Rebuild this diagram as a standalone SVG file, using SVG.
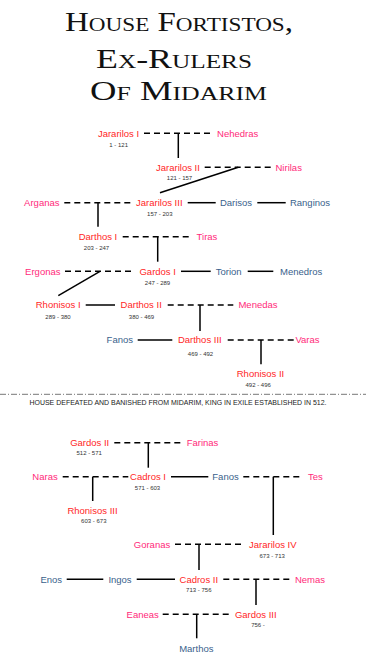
<svg xmlns="http://www.w3.org/2000/svg" width="366" height="661" viewBox="0 0 366 661">
<style>
text{font-family:"Liberation Sans",Arial,sans-serif;text-anchor:middle}
.k{fill:#ff1f1f;font-size:9.5px}
.s{fill:#ff2a7a;font-size:9.5px}
.o{fill:#3a5f8c;font-size:9.5px}
.d{fill:#333;font-size:6px}
.t{font-family:"Liberation Serif",serif;font-variant:small-caps;font-size:27px;fill:#111}
#connectors line{stroke:#000;stroke-width:1.5}
#connectors .dash{stroke-dasharray:6 4}
.sep{stroke:#777;stroke-width:1;stroke-dasharray:6 2 1 2}
</style>
<rect width="366" height="661" fill="#fff"/>
<g id="title">
<text class="t" x="179" y="31" textLength="228" lengthAdjust="spacingAndGlyphs">House Fortistos,</text>
<text class="t" x="174" y="68" textLength="156" lengthAdjust="spacingAndGlyphs">Ex-Rulers</text>
<text class="t" x="178.5" y="100" textLength="177" lengthAdjust="spacingAndGlyphs">Of Midarim</text>
</g>
<g id="connectors">
<line class="dash" x1="144" y1="133.3" x2="211.7" y2="133.3"/>
<line x1="178.3" y1="133.3" x2="178.3" y2="158"/>
<line class="dash" x1="204.7" y1="167.3" x2="271.7" y2="167.3"/>
<line x1="238.3" y1="167.3" x2="160" y2="192.7"/>
<line class="dash" x1="64.3" y1="202.7" x2="131.7" y2="202.7"/>
<line x1="98" y1="202.7" x2="98" y2="226.7"/>
<line x1="187.7" y1="202.7" x2="215.7" y2="202.7"/>
<line x1="257.3" y1="202.7" x2="285.7" y2="202.7"/>
<line class="dash" x1="122.7" y1="236.7" x2="190" y2="236.7"/>
<line x1="157.7" y1="236.7" x2="157.7" y2="261.7"/>
<line class="dash" x1="65" y1="271.3" x2="133.3" y2="271.3"/>
<line x1="100" y1="271.3" x2="58.3" y2="295.7"/>
<line x1="181" y1="271.3" x2="210.7" y2="271.3"/>
<line x1="247.7" y1="271.3" x2="273.3" y2="271.3"/>
<line x1="85.7" y1="305" x2="115" y2="305"/>
<line class="dash" x1="167.7" y1="305" x2="233.3" y2="305"/>
<line x1="200" y1="305" x2="200" y2="331"/>
<line x1="137.7" y1="340" x2="172.3" y2="340"/>
<line class="dash" x1="227.7" y1="340" x2="294" y2="340"/>
<line x1="261" y1="340" x2="261" y2="364.3"/>
<line class="dash" x1="114.3" y1="442.7" x2="181.7" y2="442.7"/>
<line x1="148.3" y1="442.7" x2="148.3" y2="467.7"/>
<line class="dash" x1="62.7" y1="476.7" x2="128.3" y2="476.7"/>
<line x1="92.7" y1="476.7" x2="92.7" y2="501"/>
<line x1="171" y1="476.7" x2="208.3" y2="476.7"/>
<line class="dash" x1="243.3" y1="476.7" x2="300" y2="476.7"/>
<line x1="273.3" y1="476.7" x2="273.3" y2="535"/>
<line class="dash" x1="175" y1="544.3" x2="243.3" y2="544.3"/>
<line x1="199" y1="544.3" x2="199" y2="570"/>
<line x1="66.7" y1="579.3" x2="103.3" y2="579.3"/>
<line x1="136.7" y1="579.3" x2="175" y2="579.3"/>
<line class="dash" x1="223.3" y1="579.3" x2="290" y2="579.3"/>
<line x1="256" y1="579.3" x2="256" y2="605"/>
<line class="dash" x1="162.7" y1="614.3" x2="230" y2="614.3"/>
<line x1="196.7" y1="614.3" x2="196.7" y2="638.3"/>
</g>
<g id="separator">
<line class="sep" x1="0" y1="394.3" x2="366" y2="394.3"/>
<text x="178" y="405.4" style="font-size:7.5px;fill:#222" textLength="297" lengthAdjust="spacingAndGlyphs">HOUSE DEFEATED AND BANISHED FROM MIDARIM, KING IN EXILE ESTABLISHED IN 512.</text>
</g>
<g id="jararilos1"><text class="k" x="118.5" y="136.7">Jararilos I</text><text class="d" x="118.7" y="146.5">1 - 121</text></g>
<g id="nehedras"><text class="s" x="237.7" y="136.7">Nehedras</text></g>
<g id="jararilos2"><text class="k" x="178" y="171">Jararilos II</text><text class="d" x="179.5" y="179.9">121 - 157</text></g>
<g id="nirilas"><text class="s" x="288.7" y="171">Nirilas</text></g>
<g id="arganas"><text class="s" x="41.8" y="206">Arganas</text></g>
<g id="jararilos3"><text class="k" x="159.3" y="206">Jararilos III</text><text class="d" x="159.8" y="215.5">157 - 203</text></g>
<g id="darisos"><text class="o" x="236" y="206">Darisos</text></g>
<g id="ranginos"><text class="o" x="310" y="206">Ranginos</text></g>
<g id="darthos1"><text class="k" x="98" y="240">Darthos I</text><text class="d" x="96.5" y="249.5">203 - 247</text></g>
<g id="tiras"><text class="s" x="207" y="240">Tiras</text></g>
<g id="ergonas"><text class="s" x="42.8" y="275">Ergonas</text></g>
<g id="gardos1"><text class="k" x="157.7" y="275">Gardos I</text><text class="d" x="157.5" y="284.9">247 - 289</text></g>
<g id="torion"><text class="o" x="228.7" y="275">Torion</text></g>
<g id="menedros"><text class="o" x="301.2" y="275">Menedros</text></g>
<g id="rhonisos1"><text class="k" x="58.2" y="308.3">Rhonisos I</text><text class="d" x="58" y="318.9">289 - 380</text></g>
<g id="darthos2"><text class="k" x="141.2" y="308.3">Darthos II</text><text class="d" x="141.5" y="318.9">380 - 469</text></g>
<g id="menedas"><text class="s" x="258" y="308.3">Menedas</text></g>
<g id="fanos1"><text class="o" x="119.8" y="343.3">Fanos</text></g>
<g id="darthos3"><text class="k" x="199.8" y="343.3">Darthos III</text><text class="d" x="200.5" y="355.5">469 - 492</text></g>
<g id="varas"><text class="s" x="307.5" y="343.3">Varas</text></g>
<g id="rhonisos2"><text class="k" x="260.5" y="377.3">Rhonisos II</text><text class="d" x="258.2" y="386.5">492 - 496</text></g>
<g id="gardos2"><text class="k" x="89.7" y="446">Gardos II</text><text class="d" x="89.2" y="454.9">512 - 571</text></g>
<g id="farinas"><text class="s" x="202.5" y="446">Farinas</text></g>
<g id="naras"><text class="s" x="45" y="480">Naras</text></g>
<g id="cadros1"><text class="k" x="148" y="480">Cadros I</text><text class="d" x="147.5" y="489.9">571 - 603</text></g>
<g id="fanos2"><text class="o" x="225.5" y="480">Fanos</text></g>
<g id="tes"><text class="s" x="315.3" y="480">Tes</text></g>
<g id="rhonisos3"><text class="k" x="92.5" y="514.3">Rhonisos III</text><text class="d" x="93.8" y="523.2">603 - 673</text></g>
<g id="goranas"><text class="s" x="152" y="547.6">Goranas</text></g>
<g id="jararilos4"><text class="k" x="272.8" y="547.6">Jararilos IV</text><text class="d" x="272.2" y="558.2">673 - 713</text></g>
<g id="enos"><text class="o" x="51.3" y="582.6">Enos</text></g>
<g id="ingos"><text class="o" x="120" y="582.6">Ingos</text></g>
<g id="cadros2"><text class="k" x="198.8" y="582.6">Cadros II</text><text class="d" x="198.8" y="592.2">713 - 756</text></g>
<g id="nemas"><text class="s" x="310" y="582.6">Nemas</text></g>
<g id="eaneas"><text class="s" x="142.7" y="617.6">Eaneas</text></g>
<g id="gardos3"><text class="k" x="255.8" y="617.6">Gardos III</text><text class="d" x="258" y="626.5">756 -</text></g>
<g id="marthos"><text class="o" x="196.3" y="651.6">Marthos</text></g>
</svg>
